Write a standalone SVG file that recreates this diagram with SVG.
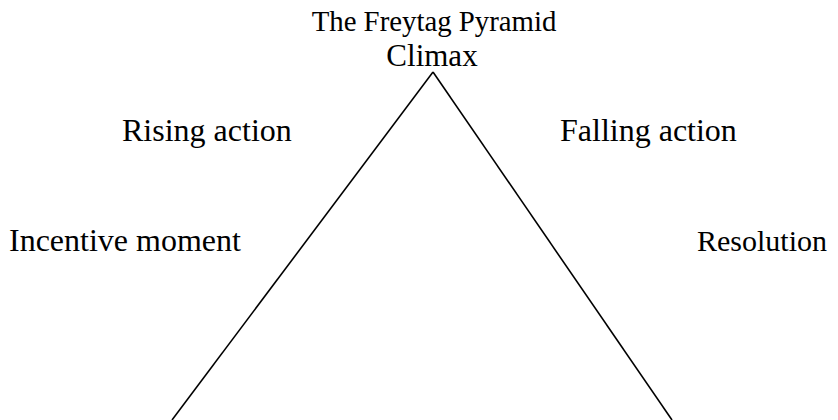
<svg xmlns="http://www.w3.org/2000/svg" width="838" height="420" viewBox="0 0 838 420">
<style>
text { font-family: "Liberation Serif", "Times New Roman", serif; font-size: 32px; fill: #000; }
.edge { stroke: #000; stroke-width: 1.6; fill: none; }
</style>
<rect width="838" height="420" fill="#fff"/>
<g id="connectors">
<line class="edge" x1="172" y1="420" x2="433" y2="72"/>
<line class="edge" x1="433" y1="72" x2="672" y2="420"/>
</g>
<g id="title"><text x="434" y="31" text-anchor="middle" style="font-size:28.8px">The Freytag Pyramid</text></g>
<g id="climax"><text x="432" y="66" text-anchor="middle" style="font-size:31px">Climax</text></g>
<g id="rising"><text x="122" y="141">Rising action</text></g>
<g id="falling"><text x="560" y="141">Falling action</text></g>
<g id="incentive"><text x="9" y="251">Incentive moment</text></g>
<g id="resolution"><text x="697" y="251" style="font-size:30px">Resolution</text></g>
</svg>
